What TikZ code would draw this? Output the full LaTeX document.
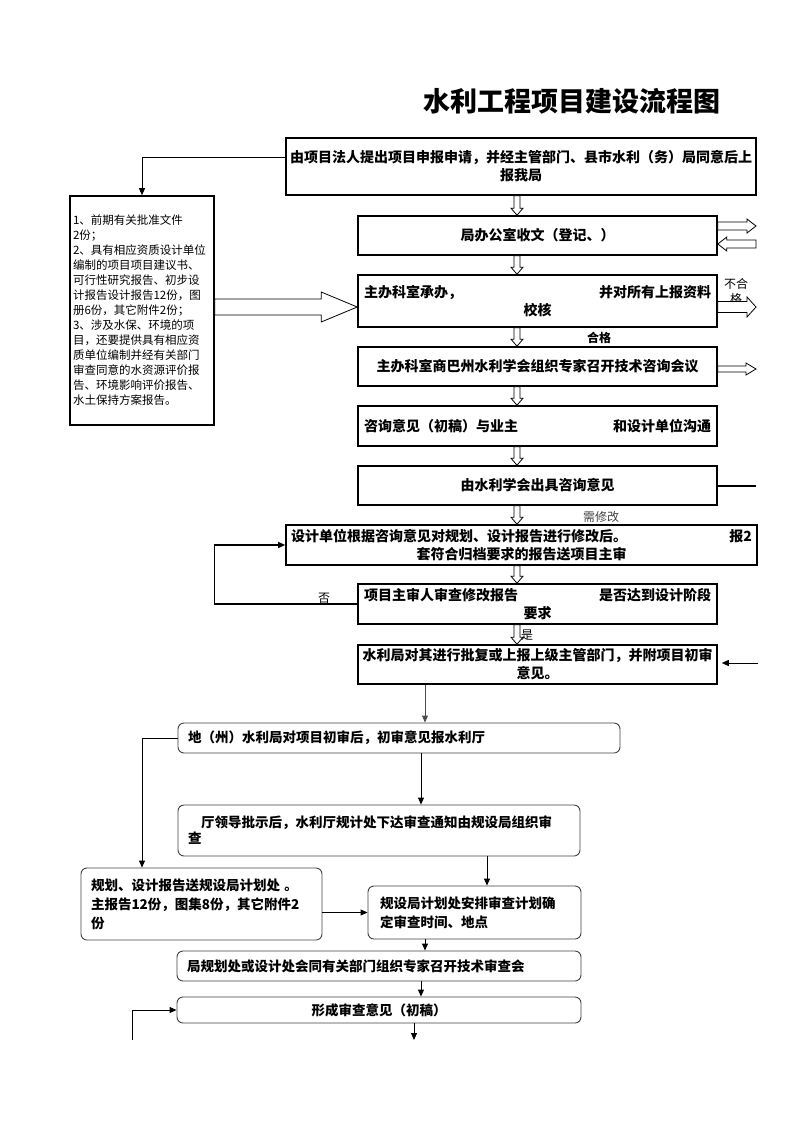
\documentclass[tikz,border=0pt]{standalone}
\usepackage{fontspec}
\setmainfont{Noto Sans CJK SC}
\usetikzlibrary{calc}
\usetikzlibrary{arrows.meta}
\newcommand{\hdown}[2]{ \draw[hollow] let \p1 = (#1), \p2 = (#2) in (\x1-3pt,\y1) -- (\x1-3pt,\y2+7pt) -- (\x1-6pt,\y2+7pt) -- (\x1,\y2) -- (\x1+6pt,\y2+7pt) -- (\x1+3pt,\y2+7pt) -- (\x1+3pt,\y1) -- cycle;}
\newcommand{\hright}[5]{ \draw[hollow] let \p1 = (#1), \p2 = (#2) in (\x1,\y1+#3) -- (\x2-#5,\y1+#3) -- (\x2-#5,\y1+#4) -- (\x2,\y1) -- (\x2-#5,\y1-#4) -- (\x2-#5,\y1-#3) -- (\x1,\y1-#3) -- cycle;}
\newcommand{\hleft}[5]{ \draw[hollow] let \p1 = (#1), \p2 = (#2) in (\x1,\y1+#3) -- (\x2+#5,\y1+#3) -- (\x2+#5,\y1+#4) -- (\x2,\y1) -- (\x2+#5,\y1-#4) -- (\x2+#5,\y1-#3) -- (\x1,\y1-#3) -- cycle;}

\begin{document}
\begin{tikzpicture}[x=1pt,y=-1pt,
  box/.style={draw, line width=1.6pt, font=\bfseries\fontsize{14}{18}\selectfont, inner sep=3pt, align=center},
  rbox/.style={draw=black!75, line width=0.9pt, rounded corners=6pt, font=\bfseries\fontsize{13.5}{19}\selectfont, align=left},
  note/.style={font=\fontsize{11.5}{15}\selectfont},
  hollow/.style={draw, line width=0.8pt, fill=white},
  arr/.style={-{Triangle[length=7pt,width=6pt]}, line width=0.9pt},
  ln/.style={line width=1.2pt}]
\useasboundingbox (0,0) rectangle (793,1122);

\node[font=\bfseries\fontsize{27}{30}\selectfont] (title) at (572,101) {水利工程项目建设流程图};

% upper boxes
\node[box, minimum width=470, minimum height=57, text width=464] (b1) at (521,166.5) {由项目法人提出项目申报申请，并经主管部门、县市水利（务）局同意后上\\报我局};
\node[box, minimum width=359, minimum height=39] (b2) at (537.5,235.5) {局办公室收文（登记、）};
\node[box, minimum width=359, minimum height=52, inner xsep=6pt, text width=347] (b3) at (537.5,301) {主办科室承办，\hfill 并对所有上报资料\\校核};
\node[box, minimum width=359, minimum height=39] (b4) at (537.5,366.5) {主办科室商巴州水利学会组织专家召开技术咨询会议};
\node[box, minimum width=359, minimum height=40, inner xsep=6pt, text width=347] (b5) at (537.5,426) {咨询意见（初稿）与业主\hfill 和设计单位沟通};
\node[box, minimum width=359, minimum height=39] (b6) at (537.5,485.5) {由水利学会出具咨询意见};
\node[box, minimum width=471, minimum height=40, inner xsep=5pt, text width=461] (b7) at (521.5,545) {设计单位根据咨询意见对规划、设计报告进行修改后。\hfill 报2\\套符合归档要求的报告送项目主审};
\node[box, minimum width=359, minimum height=40, inner xsep=6pt, text width=347] (b8) at (537.5,604) {项目主审人审查修改报告\hfill 是否达到设计阶段\\要求};
\node[box, minimum width=359, minimum height=39, text width=353] (b9) at (537.5,664.5) {水利局对其进行批复或上报上级主管部门，并附项目初审\\意见。};

\node[draw, line width=1.6pt, minimum width=144, minimum height=229, text width=138, inner sep=3pt, align=left, note] (list) at (142,310.5) {1、前期有关批准文件\\2份；\\2、具有相应资质设计单位\\编制的项目项目建议书、\\可行性研究报告、初步设\\计报告设计报告12份，图\\册6份，其它附件2份；\\3、涉及水保、环境的项\\目，还要提供具有相应资\\质单位编制并经有关部门\\审查同意的水资源评价报\\告、环境影响评价报告、\\水土保持方案报告。};

% lower boxes
\node[rbox, minimum width=442, minimum height=30, text width=422] (c10) at (399,738) {地（州）水利局对项目初审后，初审意见报水利厅};
\node[rbox, minimum width=402, minimum height=51, text width=382, font=\bfseries\fontsize{13.5}{16}\selectfont] (c11) at (379,830.5) {\hspace*{13pt}厅领导批示后，水利厅规计处下达审查通知由规设局组织审\\查};
\node[rbox, minimum width=241, minimum height=72, text width=221] (c12) at (201.5,904) {规划、设计报告送规设局计划处 。\\主报告12份，图集8份，其它附件2\\份};
\node[rbox, minimum width=213, minimum height=53, text width=189] (c13) at (474.5,912.5) {规设局计划处安排审查计划确\\定审查时间、地点};
\node[rbox, minimum width=404, minimum height=30, text width=384] (c14) at (379,966) {局规划处或设计处会同有关部门组织专家召开技术审查会};
\node[rbox, minimum width=404, minimum height=26, align=center] (c15) at (379,1010) {形成审查意见（初稿）};

% labels
\node[font=\bfseries\fontsize{12}{14}\selectfont] (ok) at (599,338) {合格};
\node[font=\fontsize{12}{14}\selectfont, text=black!75] (fix) at (601,517) {需修改};
\node[font=\fontsize{12}{14}\selectfont] (no) at (324,598) {否};
\node[font=\fontsize{12}{14}\selectfont] (yes) at (527,635) {是};
\node[font=\fontsize{12}{15}\selectfont, align=center] (bad) at (736,291) {不合\\格};

% free ends
\coordinate (ax) at (517,0);
\coordinate (r2a) at (756,226);
\coordinate (r2b) at (756,244);
\coordinate (r3) at (756,307);
\coordinate (r4) at (756,369);
\coordinate (r6) at (756,486);
\coordinate (r9) at (758,663);
\coordinate (e15) at (414,1040);
\coordinate (s15) at (132,1040);

% hollow arrows
\hdown{b1.south -| ax}{b2.north -| ax}
\hdown{b2.south -| ax}{b3.north -| ax}
\hdown{b3.south -| ax}{b4.north -| ax}
\hdown{b4.south -| ax}{b5.north -| ax}
\hdown{b5.south -| ax}{b6.north -| ax}
\hdown{b6.south -| ax}{b7.north -| ax}
\hdown{b7.south -| ax}{b8.north -| ax}
\hdown{b8.south -| ax}{b9.north -| ax}
\hright{[yshift=3.5pt]list.east}{b3.west}{8pt}{15pt}{36pt}
\hright{b2.east |- r2a}{r2a}{4pt}{7pt}{9pt}
\hleft{r2b}{b2.east}{4pt}{7pt}{9pt}
\hright{b3.east |- r3}{r3}{5.5pt}{10pt}{9pt}
\hright{b4.east |- r4}{r4}{3pt}{6pt}{10pt}

% plain connectors
\draw[arr] ([yshift=9.5pt]b1.west) -| (list.north);
\draw[ln] (b6.east |- r6) -- (r6);
\draw[arr, shorten >=4pt] (r9) -- (b9.east |- r9);
\draw[arr, line width=1.3pt] (b8.west) -- ++(-143,0) |- (b7.west);
\draw[arr, draw=black!70] ([xshift=-112.5pt]b9.south) -- ([xshift=-112.5pt]b9.south |- c10.north);
\draw[arr] ([xshift=22pt]c10.south) -- ([xshift=22pt]c10.south |- c11.north);
\draw[arr] (c10.west) -| ([xshift=-59.5pt]c12.north);
\draw[arr] ([xshift=108pt]c11.south) -- ([xshift=108pt]c11.south |- c13.north);
\draw[arr] (c13.west -| c12.east) -- (c13.west);
\draw[arr] ([xshift=-49.5pt]c13.south) -- ([xshift=-49.5pt]c13.south |- c14.north);
\draw[arr] ([xshift=42pt]c14.south) -- ([xshift=42pt]c14.south |- c15.north);
\draw[arr] (c15.south -| e15) -- (e15);
\draw[arr] (s15) |- (c15.west);

\end{tikzpicture}
\end{document}
